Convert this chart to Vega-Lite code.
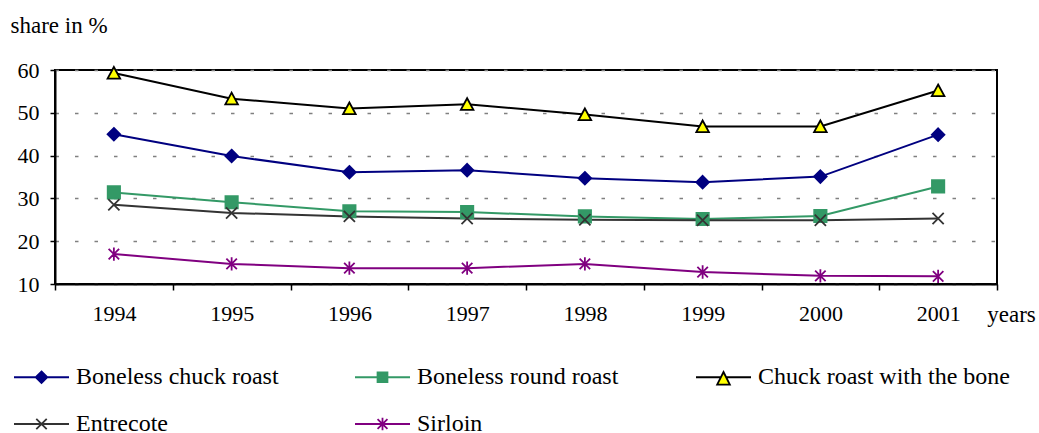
{
  "$schema": "https://vega.github.io/schema/vega-lite/v6.json",
  "width": 942,
  "height": 214,
  "autosize": {"type": "none"},
  "padding": {"left": 55, "top": 70, "right": 42, "bottom": 149},
  "background": "white",
  "config": {
    "font": "Liberation Serif, Times New Roman, serif",
    "view": {"stroke": "black", "strokeWidth": 2},
    "axis": {
      "labelFont": "Liberation Serif, Times New Roman, serif",
      "labelFontSize": 22,
      "labelColor": "black",
      "titleFont": "Liberation Serif, Times New Roman, serif",
      "titleFontWeight": "normal",
      "titleFontSize": 23,
      "titleColor": "black",
      "domainColor": "black",
      "domainWidth": 2,
      "tickColor": "black",
      "tickWidth": 1.5
    },
    "legend": {
      "labelFont": "Liberation Serif, Times New Roman, serif"
    }
  },
  "data": {
    "values": [
      {"year": "1994", "series": "Boneless chuck roast", "value": 45},
      {"year": "1995", "series": "Boneless chuck roast", "value": 39.9},
      {"year": "1996", "series": "Boneless chuck roast", "value": 36.1},
      {"year": "1997", "series": "Boneless chuck roast", "value": 36.6},
      {"year": "1998", "series": "Boneless chuck roast", "value": 34.7},
      {"year": "1999", "series": "Boneless chuck roast", "value": 33.8},
      {"year": "2000", "series": "Boneless chuck roast", "value": 35.1},
      {"year": "2001", "series": "Boneless chuck roast", "value": 44.9},
      {"year": "1994", "series": "Boneless round roast", "value": 31.4},
      {"year": "1995", "series": "Boneless round roast", "value": 29.1},
      {"year": "1996", "series": "Boneless round roast", "value": 27},
      {"year": "1997", "series": "Boneless round roast", "value": 26.8},
      {"year": "1998", "series": "Boneless round roast", "value": 25.8},
      {"year": "1999", "series": "Boneless round roast", "value": 25.2},
      {"year": "2000", "series": "Boneless round roast", "value": 25.9},
      {"year": "2001", "series": "Boneless round roast", "value": 32.8},
      {"year": "1994", "series": "Chuck roast with the bone", "value": 59.3},
      {"year": "1995", "series": "Chuck roast with the bone", "value": 53.3},
      {"year": "1996", "series": "Chuck roast with the bone", "value": 51},
      {"year": "1997", "series": "Chuck roast with the bone", "value": 52},
      {"year": "1998", "series": "Chuck roast with the bone", "value": 49.6},
      {"year": "1999", "series": "Chuck roast with the bone", "value": 46.8},
      {"year": "2000", "series": "Chuck roast with the bone", "value": 46.8},
      {"year": "2001", "series": "Chuck roast with the bone", "value": 55.2},
      {"year": "1994", "series": "Entrecote", "value": 28.5},
      {"year": "1995", "series": "Entrecote", "value": 26.6},
      {"year": "1996", "series": "Entrecote", "value": 25.8},
      {"year": "1997", "series": "Entrecote", "value": 25.3},
      {"year": "1998", "series": "Entrecote", "value": 25},
      {"year": "1999", "series": "Entrecote", "value": 24.9},
      {"year": "2000", "series": "Entrecote", "value": 24.9},
      {"year": "2001", "series": "Entrecote", "value": 25.3},
      {"year": "1994", "series": "Sirloin", "value": 17},
      {"year": "1995", "series": "Sirloin", "value": 14.7},
      {"year": "1996", "series": "Sirloin", "value": 13.7},
      {"year": "1997", "series": "Sirloin", "value": 13.7},
      {"year": "1998", "series": "Sirloin", "value": 14.7},
      {"year": "1999", "series": "Sirloin", "value": 12.8},
      {"year": "2000", "series": "Sirloin", "value": 11.9},
      {"year": "2001", "series": "Sirloin", "value": 11.8}
    ]
  },
  "encoding": {
    "x": {
      "field": "year",
      "type": "ordinal",
      "bandPosition": 0.5,
      "scale": {"type": "band", "paddingInner": 0, "paddingOuter": 0},
      "axis": {
        "labelAngle": 0,
        "tickBand": "extent",
        "tickSize": 6,
        "labelPadding": 13,
        "grid": false,
        "title": "years",
        "titleX": 956,
        "titleY": 30,
        "titleAlign": "center",
        "titleBaseline": "middle",
        "titleAnchor": null
      }
    },
    "y": {
      "field": "value",
      "type": "quantitative",
      "scale": {"domain": [10, 60], "nice": false, "zero": false},
      "axis": {
        "values": [10, 20, 30, 40, 50, 60],
        "grid": true,
        "gridDash": [3.5, 16],
        "gridColor": "#808080",
        "gridWidth": 1.5,
        "tickSize": 5,
        "labelPadding": 11,
        "title": "share in %",
        "titleAngle": 0,
        "titleX": -45,
        "titleY": -45,
        "titleAlign": "left",
        "titleBaseline": "middle",
        "titleAnchor": null
      }
    }
  },
  "layer": [
    {
      "mark": {"type": "line", "strokeWidth": 2},
      "encoding": {
        "stroke": {
          "field": "series",
          "type": "nominal",
          "scale": {
            "domain": ["Boneless chuck roast", "Boneless round roast", "Chuck roast with the bone", "Entrecote", "Sirloin"],
            "range": ["#000080", "#339966", "#000000", "#333333", "#800080"]
          },
          "legend": null
        }
      }
    },
    {
      "mark": {"type": "point", "filled": true, "size": 196, "strokeWidth": 1.8, "opacity": 1},
      "encoding": {
        "shape": {
          "field": "series",
          "type": "nominal",
          "scale": {
            "domain": ["Boneless chuck roast", "Boneless round roast", "Chuck roast with the bone", "Entrecote", "Sirloin"],
            "range": [
              "M0,-0.9L0.9,0L0,0.9L-0.9,0Z",
              "M-0.88,-0.88L0.88,-0.88L0.88,0.88L-0.88,0.88Z",
              "M0,-0.86L0.9,0.8L-0.9,0.8Z",
              "M-0.8,-0.8L0.8,0.8M-0.8,0.8L0.8,-0.8",
              "M-0.75,-0.75L0.75,0.75M-0.75,0.75L0.75,-0.75M0,-0.95L0,0.95"
            ]
          },
          "legend": null
        },
        "fill": {
          "field": "series",
          "type": "nominal",
          "scale": {
            "domain": ["Boneless chuck roast", "Boneless round roast", "Chuck roast with the bone", "Entrecote", "Sirloin"],
            "range": ["#000080", "#339966", "#FFFF00", "transparent", "transparent"]
          },
          "legend": null
        },
        "stroke": {
          "field": "series",
          "type": "nominal",
          "scale": {
            "domain": ["Boneless chuck roast", "Boneless round roast", "Chuck roast with the bone", "Entrecote", "Sirloin"],
            "range": ["#000080", "#339966", "#000000", "#333333", "#800080"]
          },
          "legend": null
        }
      }
    },
    {
      "mark": {"type": "point", "filled": true, "size": 3025, "strokeWidth": 1.8, "opacity": 0},
      "encoding": {
        "shape": {
          "field": "series",
          "type": "nominal",
          "scale": {
            "domain": ["Boneless chuck roast", "Boneless round roast", "Chuck roast with the bone", "Entrecote", "Sirloin"],
            "range": [
              "M-1,0L1,0M0,-0.21L0.21,0L0,0.21L-0.21,0Z",
              "M-1,0L1,0M-0.18,-0.18L0.18,-0.18L0.18,0.18L-0.18,0.18Z",
              "M-1,0L-0.1,0M0.1,0L1,0M0,-0.19L0.23,0.27L-0.23,0.27Z",
              "M-1,0L1,0M-0.19,-0.19L0.19,0.19M-0.19,0.19L0.19,-0.19",
              "M-1,0L1,0M-0.18,-0.18L0.18,0.18M-0.18,0.18L0.18,-0.18M0,-0.23L0,0.23"
            ]
          },
          "legend": {
            "title": null,
            "orient": "none",
            "legendX": -42,
            "legendY": 278.5,
            "direction": "horizontal",
            "columns": 3,
            "gridAlign": "all",
            "columnPadding": 23,
            "rowPadding": 6,
            "labelFont": "Liberation Serif, Times New Roman, serif",
            "labelFontSize": 24,
            "labelColor": "black",
            "labelOffset": 6,
            "labelLimit": 400,
            "symbolOpacity": 1,
            "symbolStrokeWidth": 1.8,
            "symbolSize": 3025
          }
        },
        "fill": {
          "field": "series",
          "type": "nominal",
          "scale": {
            "domain": ["Boneless chuck roast", "Boneless round roast", "Chuck roast with the bone", "Entrecote", "Sirloin"],
            "range": ["#000080", "#339966", "#FFFF00", "transparent", "transparent"]
          },
          "legend": {
            "title": null,
            "orient": "none",
            "legendX": -42,
            "legendY": 278.5,
            "direction": "horizontal",
            "columns": 3,
            "gridAlign": "all",
            "columnPadding": 23,
            "rowPadding": 6,
            "labelFont": "Liberation Serif, Times New Roman, serif",
            "labelFontSize": 24,
            "labelColor": "black",
            "labelOffset": 6,
            "labelLimit": 400,
            "symbolOpacity": 1,
            "symbolStrokeWidth": 1.8,
            "symbolSize": 3025
          }
        },
        "stroke": {
          "field": "series",
          "type": "nominal",
          "scale": {
            "domain": ["Boneless chuck roast", "Boneless round roast", "Chuck roast with the bone", "Entrecote", "Sirloin"],
            "range": ["#000080", "#339966", "#000000", "#333333", "#800080"]
          },
          "legend": {
            "title": null,
            "orient": "none",
            "legendX": -42,
            "legendY": 278.5,
            "direction": "horizontal",
            "columns": 3,
            "gridAlign": "all",
            "columnPadding": 23,
            "rowPadding": 6,
            "labelFont": "Liberation Serif, Times New Roman, serif",
            "labelFontSize": 24,
            "labelColor": "black",
            "labelOffset": 6,
            "labelLimit": 400,
            "symbolOpacity": 1,
            "symbolStrokeWidth": 1.8,
            "symbolSize": 3025
          }
        }
      }
    }
  ],
  "resolve": {"scale": {"shape": "independent", "fill": "independent", "stroke": "independent"}}
}
